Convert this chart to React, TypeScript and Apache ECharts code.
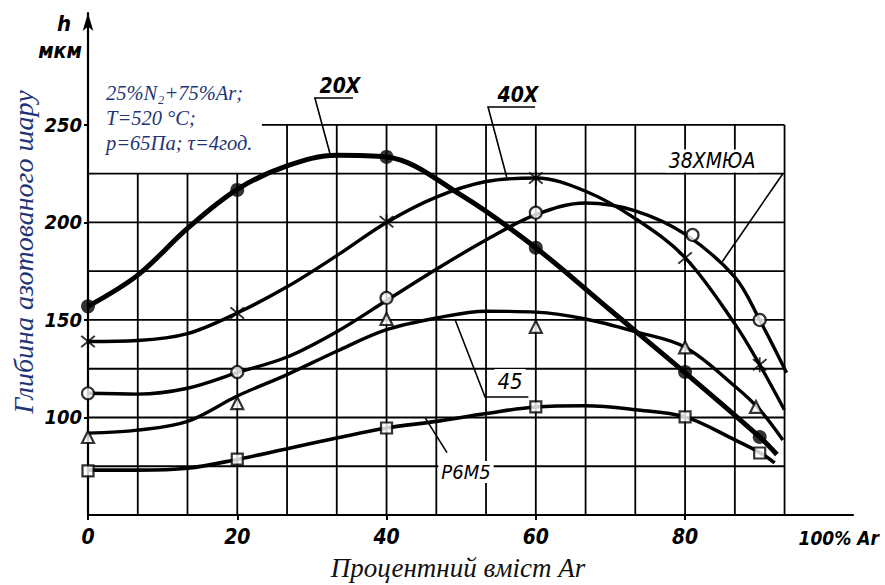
import React, { useEffect, useRef } from "react";
import * as echarts from "echarts";

// ---- axis ticks ----
const xTicks = [0, 20, 40, 60, 80];
const yTicks = [100, 150, 200, 250];

// ---- grid line values (drawing grid of the original figure) ----
const gridXs = [6.67, 13.33, 20, 26.67, 33.33, 40, 46.67, 53.33, 60, 66.67, 73.33, 80, 86.67, 93.33];
const gridYs = [75, 100, 125, 150, 175, 200, 225, 250];

// ---- measured points (markers) ----
const pts20X = [[0, 157], [20, 216.7], [40, 233.6], [60, 187], [80, 123.3], [90, 90]];
const pts40X = [[0, 139], [20, 153.6], [40, 200.3], [60, 222.8], [80, 181.8], [90, 127]];
const pts38 = [[0, 112.4], [20, 123.3], [40, 161.3], [60, 205], [81, 193.6], [90, 150]];
const pts45 = [[0, 90], [20, 107.4], [40, 150.5], [60, 146.5], [80, 136], [89.5, 105.4]];
const ptsP6M5 = [[0, 72.6], [20, 78.7], [40, 94.6], [60, 105.4], [80, 100.3], [90, 81.8]];

// ---- drawn curves ----
const curve20X = [[0, 157], [6.67, 173], [13.33, 197], [20, 217], [26.67, 229], [33.33, 234.5], [40, 233.6], [50, 214], [60, 187], [70, 155], [80, 123], [90, 90], [92.3, 81]];
const curve40X = [[0, 139], [6.67, 139.5], [13.33, 143], [20, 153.6], [26.67, 167], [33.33, 183], [40, 200], [46.67, 213], [53.33, 221], [60, 222.8], [66.67, 216], [73.33, 202], [80, 182], [86.67, 148], [90, 127], [93.3, 104]];
const curve38 = [[0, 112.4], [6.67, 112], [13.33, 115], [20, 123], [26.67, 131], [33.33, 144], [40, 160], [46.67, 176], [53.33, 191], [60, 204], [66.67, 210], [73.33, 206], [80, 194], [86.67, 172], [90, 150], [93.6, 123]];
const curve45 = [[0, 92], [6.67, 93.5], [13.33, 98], [20, 111], [26.67, 122], [33.33, 134], [40, 145], [46.67, 151], [53.33, 154.5], [60, 154], [66.67, 150.5], [73.33, 144], [80, 136], [86.67, 116], [90, 104], [93.1, 88.5]];
const curveP6M5 = [[0, 73], [6.67, 73], [13.33, 74], [20, 78.5], [26.67, 84], [33.33, 89.5], [40, 94.6], [46.67, 98], [53.33, 102], [60, 105.4], [66.67, 106], [73.33, 104], [80, 100.3], [86.67, 88.5], [90, 82], [92, 76.7]];

// ---- label leader lines (data coordinates) ----
const leader20X = [[35.5, 263.8], [30.4, 263.8], [32.4, 235.6]];
const leader40X = [[59.9, 259.2], [53.6, 259.2], [56.1, 223.3]];
const leader38 = [[93.1, 225], [85, 180]];
const leader45 = [[59, 110.5], [53.2, 110.5], [49.2, 150]];
const leaderP6M5 = [[45.2, 99.7], [48.1, 82]];

const techFont = '"DejaVu Sans Condensed", "Liberation Sans Narrow", "DejaVu Sans", sans-serif';
const serifFont = '"Liberation Serif", "DejaVu Serif", serif';
const navy = "#1f3577";

const crossPath =
  "path://M-5,-4L-4,-5L0,-1L4,-5L5,-4L1,0L5,4L4,5L0,1L-4,5L-5,4L-1,0Z M-0.6,-6L0.6,-6L0.6,6L-0.6,6Z";

function buildOption() {
  const gridLines: number[][][] = [];
  gridXs.forEach((x) => gridLines.push([[x, 50], [x, x <= 20.5 ? 225 : 250]]));
  gridYs.forEach((y) => gridLines.push([[y === 250 ? 23.3 : 0, y], [93.33, y]]));

  const curve = (data: number[][], width: number) => ({
    type: "line",
    data,
    smooth: 0.35,
    showSymbol: false,
    symbol: "none",
    lineStyle: { color: "#000", width },
    z: 3,
    silent: true,
  });
  const markers = (data: number[][], symbol: string, size: number, filled: boolean) => ({
    type: "scatter",
    data,
    symbol,
    symbolSize: size,
    itemStyle: filled
      ? { color: "#000", borderColor: "#000", borderWidth: 0 }
      : { color: "#fff", borderColor: "#000", borderWidth: 2.2 },
    z: 5,
    silent: true,
  });

  const text = (t: string, x: number, y: number, opts: any = {}) => ({
    type: "text",
    x,
    y,
    z: 100,
    rotation: opts.rotation || 0,
    style: {
      text: t,
      fill: opts.fill || "#000",
      fontSize: opts.fontSize || 20,
      fontFamily: opts.fontFamily || techFont,
      fontStyle: "italic",
      fontWeight: opts.fontWeight || "normal",
      align: opts.align || "center",
      verticalAlign: "middle",
      backgroundColor: opts.bg,
      padding: opts.bg ? [1, 3] : 0,
    },
  });

  return {
    animation: false,
    backgroundColor: "#fff",
    grid: { left: 88, right: 32, top: 13, bottom: 70, containLabel: false },
    xAxis: {
      type: "value",
      min: 0,
      max: 102.5,
      interval: 20,
      axisLine: { show: true, onZero: false, lineStyle: { color: "#000", width: 2.2 } },
      axisTick: { show: true, length: 5, customValues: xTicks, lineStyle: { color: "#000", width: 2 } },
      axisLabel: {
        customValues: xTicks,
        formatter: (v: number) => (xTicks.includes(v) ? String(v) : ""),
        color: "#000",
        fontFamily: techFont,
        fontStyle: "italic",
        fontWeight: "bold",
        fontSize: 21,
        margin: 11,
      },
      splitLine: { show: false },
    },
    yAxis: {
      type: "value",
      min: 50,
      max: 307.4,
      interval: 50,
      axisLine: {
        show: true,
        onZero: false,
        symbol: ["none", "arrow"],
        symbolSize: [8, 18],
        lineStyle: { color: "#000", width: 2.2 },
      },
      axisTick: { show: true, length: 4, customValues: yTicks, lineStyle: { color: "#000", width: 2 } },
      axisLabel: {
        customValues: yTicks,
        formatter: (v: number) => (yTicks.includes(v) ? String(v) : ""),
        color: "#000",
        fontFamily: techFont,
        fontStyle: "italic",
        fontWeight: "bold",
        fontSize: 20,
        margin: 6,
      },
      splitLine: { show: false },
    },
    graphic: [
      text("Глибина азотованого шару", 23, 252, {
        rotation: Math.PI / 2,
        fontFamily: serifFont,
        fontSize: 28,
        fill: navy,
      }),
      text("Процентний вміст Ar", 458, 568, { fontFamily: serifFont, fontSize: 27, fill: "#111" }),
      text("25%N₂+75%Ar;", 106, 93, { fontFamily: serifFont, fontSize: 20.5, fill: navy, align: "left" }),
      text("T=520 °C;", 106, 118, { fontFamily: serifFont, fontSize: 20.5, fill: navy, align: "left" }),
      text("p=65Па; τ=4год.", 106, 143, { fontFamily: serifFont, fontSize: 20.5, fill: navy, align: "left" }),
      text("h", 64, 23, { fontSize: 22, fontWeight: "bold" }),
      text("мкм", 60, 51, { fontSize: 21, fontWeight: "bold" }),
      text("100% Ar", 879, 538, { fontSize: 19, fontWeight: "bold", align: "right" }),
      text("20Х", 340, 86, { fontSize: 21, fontWeight: "bold" }),
      text("40Х", 518, 95, { fontSize: 21, fontWeight: "bold" }),
      text("38ХМЮА", 712, 161, { fontSize: 21, bg: "#fff" }),
      text("45", 510, 381, { fontSize: 22, bg: "#fff" }),
      text("Р6М5", 466, 472, { fontSize: 20, bg: "#fff" }),
    ],
    series: [
      {
        type: "lines",
        coordinateSystem: "cartesian2d",
        polyline: true,
        data: gridLines.map((c) => ({ coords: c })),
        lineStyle: { color: "#000", width: 1.8, opacity: 1 },
        z: 1,
        silent: true,
      },
      {
        type: "lines",
        coordinateSystem: "cartesian2d",
        polyline: true,
        data: [leader20X, leader40X, leader38, leader45, leaderP6M5].map((c) => ({ coords: c })),
        lineStyle: { color: "#000", width: 1.6, opacity: 1 },
        z: 2,
        silent: true,
      },
      curve(curve20X, 5),
      curve(curve40X, 3.4),
      curve(curve38, 3.4),
      curve(curve45, 3.4),
      curve(curveP6M5, 3.6),
      markers(pts20X, "circle", 14, true),
      markers(pts40X, crossPath, 15, true),
      markers(pts38, "circle", 12, false),
      markers(pts45, "triangle", 12, false),
      markers(ptsP6M5, "rect", 11, false),
    ],
  };
}

export default function App() {
  const ref = useRef<HTMLDivElement>(null);
  useEffect(() => {
    if (!ref.current) return;
    const chart = echarts.init(ref.current, null, { renderer: "svg" });
    chart.setOption(buildOption() as any);
    return () => chart.dispose();
  }, []);
  return (
    <div
      ref={ref}
      style={{ position: "fixed", left: 0, top: 0, width: 885, height: 585, background: "#fff" }}
    />
  );
}
